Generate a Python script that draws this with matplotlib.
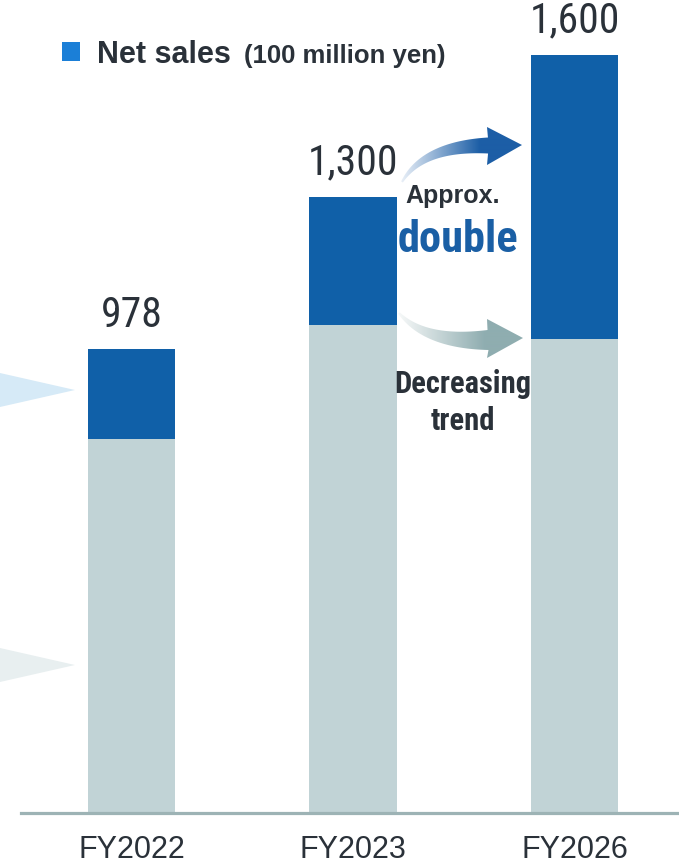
import numpy as np
import matplotlib
matplotlib.use("Agg")
import matplotlib.pyplot as plt
from matplotlib import font_manager
from matplotlib.path import Path
from matplotlib.patches import PathPatch, Rectangle, Polygon

# ---------------- data ----------------
categories = ["FY2022", "FY2023", "FY2026"]
net_sales = [978, 1300, 1600]          # total (100 million yen)
base_part = [790, 1030, 1000]          # lower (gray) segment
value_labels = ["978", "1,300", "1,600"]
growth_part = [t - b for t, b in zip(net_sales, base_part)]

# ---------------- fonts ----------------
names = {f.name for f in font_manager.fontManager.ttflist}
if "Liberation Sans Narrow" in names:
    NARROW = "Liberation Sans Narrow"
elif "Roboto Condensed" in names:
    NARROW = "Roboto Condensed"
else:
    NARROW = "Liberation Sans"
SANS = "Liberation Sans"
TXT = "#2a3139"
BLUE = "#1060a8"
GRAY = "#c1d3d6"

W, H = 679, 866
fig = plt.figure(figsize=(W / 100, H / 100), dpi=100)
fig.patch.set_facecolor("white")

# data axes
ax = fig.add_axes([21 / W, 53 / H, 658 / W, 813 / H])
x = np.arange(len(categories))
ax.bar(x, base_part, width=0.397, color=GRAY, zorder=2)
ax.bar(x, growth_part, bottom=base_part, width=0.397, color=BLUE, zorder=2)
ax.set_xlim(-0.4989, 2.4718)
ax.set_ylim(0, 813 / 0.474)
for s in ["top", "left", "right"]:
    ax.spines[s].set_visible(False)
ax.spines["bottom"].set_color("#9db3b5")
ax.spines["bottom"].set_linewidth(2.3)
ax.set_yticks([])
ax.set_xticks(x)
ax.set_xticklabels(categories, fontfamily=SANS, fontsize=22, color=TXT)
ax.tick_params(axis="x", length=0, pad=16)
ax.set_facecolor("none")

for xi, tot, lab in zip(x, net_sales, value_labels):
    ax.annotate(lab, (xi, tot), xytext=(0, 16), textcoords="offset points",
                ha="center", va="baseline", fontfamily=NARROW, fontsize=30,
                color=TXT)

# overlay axes in pixel coordinates for decorations
ov = fig.add_axes([0, 0, 1, 1], zorder=5)
ov.set_xlim(0, W)
ov.set_ylim(H, 0)
ov.axis("off")
ov.patch.set_alpha(0)

# left partial pointers
ov.add_patch(Polygon([(0, 373), (75, 390), (0, 407)], closed=True,
                     color="#d6eaf7", lw=0))
ov.add_patch(Polygon([(0, 648), (75, 665), (0, 682)], closed=True,
                     color="#e8eff0", lw=0))


def arrow_path(p0, p1, p2, w0, w1, head, n=60):
    p0, p1, p2 = map(np.asarray, (p0, p1, p2))
    t = np.linspace(0, 1, n)[:, None]
    B = (1 - t) ** 2 * p0 + 2 * (1 - t) * t * p1 + t ** 2 * p2
    D = 2 * (1 - t) * (p1 - p0) + 2 * t * (p2 - p1)
    N = np.column_stack([-D[:, 1], D[:, 0]])
    N /= np.linalg.norm(N, axis=1)[:, None]
    w = (w0 + (w1 - w0) * t) / 2
    sideA = B + N * w
    sideB = B - N * w
    hb, tip, ht = head
    pts = np.vstack([sideA, [hb, tip, ht], sideB[::-1], sideA[:1]])
    codes = [Path.MOVETO] + [Path.LINETO] * (len(pts) - 2) + [Path.CLOSEPOLY]
    return Path(pts, codes)


def gradient_arrow(path, c0, c1, x0, x1):
    patch = PathPatch(path, facecolor="none", edgecolor="none")
    ov.add_patch(patch)
    c0 = np.array(matplotlib.colors.to_rgb(c0))
    c1 = np.array(matplotlib.colors.to_rgb(c1))
    X0, X1 = 380, 540
    xs = np.clip((np.linspace(X0, X1, 320) - x0) / (x1 - x0), 0, 1)
    img = (c0[None, :] * (1 - xs[:, None]) + c1[None, :] * xs[:, None])[None, :, :]
    im = ov.imshow(img, extent=(X0, X1, 450, 100), aspect="auto",
                   interpolation="bilinear", zorder=3)
    im.set_clip_path(patch)


blue_path = arrow_path((402, 182), (423, 146), (488, 145.5), 2, 16,
                       [(487, 165), (522, 145), (487, 127)])
gradient_arrow(blue_path, "#f2f6fb", "#1c5ea6", 398, 480)

gray_path = arrow_path((399, 313), (425, 343), (488, 340), 2, 20,
                       [(487, 358), (523, 338), (487, 319)])
gradient_arrow(gray_path, "#f7f9f9", "#8fadb0", 398, 485)

# annotation texts
ov.text(453, 203, "Approx.", ha="center", va="baseline", fontfamily=SANS,
        fontweight="bold", fontsize=18, color=TXT)
ov.text(458, 252, "double", ha="center", va="baseline", fontfamily=NARROW,
        fontweight="bold", fontsize=32, color="#1a5fa5")
ov.text(463, 393, "Decreasing", ha="center", va="baseline", fontfamily=NARROW,
        fontweight="bold", fontsize=22, color=TXT)
ov.text(463, 430, "trend", ha="center", va="baseline", fontfamily=NARROW,
        fontweight="bold", fontsize=22, color=TXT)

# legend
ov.add_patch(Rectangle((62, 42), 18, 19, color="#1b7fd7", lw=0))
ov.text(97, 63, "Net sales", ha="left", va="baseline", fontfamily=SANS,
        fontweight="bold", fontsize=22, color=TXT)
ov.text(244, 63, "(100 million yen)", ha="left", va="baseline", fontfamily=SANS,
        fontweight="bold", fontsize=18.5, color=TXT)

fig.savefig("out.png", dpi=100)
